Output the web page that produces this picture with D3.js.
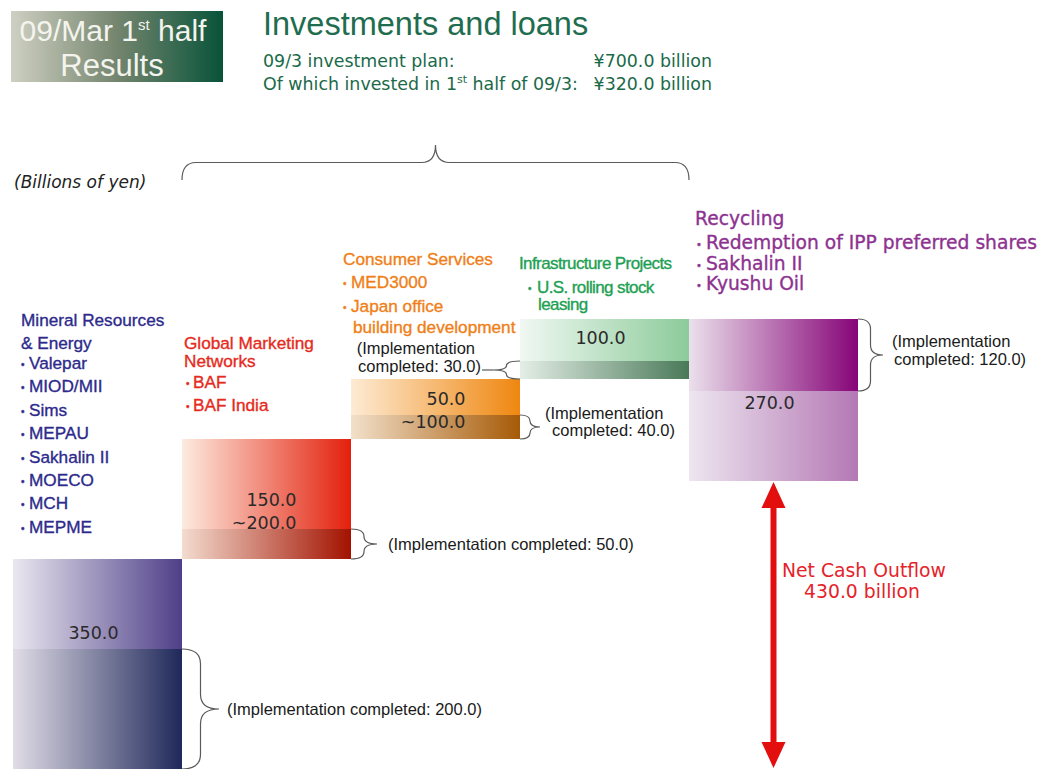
<!DOCTYPE html>
<html>
<head>
<meta charset="utf-8">
<script src="https://cdn.jsdelivr.net/npm/d3@7"></script>
<style>
  html, body { margin: 0; padding: 0; background: #fff; }
  svg { display: block; }
</style>
</head>
<body>
<svg id="chart" width="1040" height="769"></svg>
<script>
// values (billions of yen)
const categories = ["Mineral Resources & Energy", "Global Marketing Networks", "Consumer Services", "Infrastructure Projects", "Recycling"];
const amountLow = [350, 150, 50, 100, -270];
const amountHigh = [350, 200, 100, 100, -270];
const completedAmount = [200, 50, 40, 30, 120];
const categoryTitles = [["Mineral Resources", "& Energy"], ["Global Marketing", "Networks"], ["Consumer Services"], ["Infrastructure Projects"], ["Recycling"]];
const categoryItems = [
  [["Valepar"], ["MIOD/MII"], ["Sims"], ["MEPAU"], ["Sakhalin II"], ["MOECO"], ["MCH"], ["MEPME"]],
  [["BAF"], ["BAF India"]],
  [["MED3000"], ["Japan office", "building development"]],
  [["U.S. rolling stock", "leasing"]],
  [["Redemption of IPP preferred shares"], ["Sakhalin II"], ["Kyushu Oil"]]
];
const investmentPlan = 700.0;
const investedFirstHalf = 320.0;
const netCashOutflow = 430.0;

const fmt = d3.format(".1f");
const sans = "'Liberation Sans', Arial, sans-serif";
const verd = "'DejaVu Sans', Verdana, sans-serif";

const svg = d3.select("#chart");
const defs = svg.append("defs");

const x = d3.scaleBand()
  .domain(categories)
  .range([13, 858])
  .padding(0);

const y = d3.scaleLinear()
  .domain([0, 750])
  .range([769, 319]);

// running totals, bars drawn to the upper end of each range
let running = 0;
const bars = categories.map((c, i) => {
  const start = running;
  const end = start + amountHigh[i];
  running = end;
  const done = start + Math.sign(amountHigh[i]) * completedAmount[i];
  return { c, i, start, end, done };
});

const barColors = [
  { light: "#ebe7f0", main: "#4e3f88", lightDone: "#e1dde7", dark: "#1f285a" },
  { light: "#fdebe0", main: "#e3200c", lightDone: "#f3dccf", dark: "#a31200" },
  { light: "#fdebd4", main: "#ef8710", lightDone: "#f2e0ca", dark: "#a65a06" },
  { light: "#f0f8f2", main: "#8ccb9a", lightDone: "#e4eee6", dark: "#497958" },
  { light: "#ede6f0", main: "#b478b4", lightDone: "#ebe0ec", dark: "#860478" }
];

function grad(id, c0, c1) {
  const g = defs.append("linearGradient").attr("id", id)
    .attr("x1", 0).attr("x2", 1).attr("y1", 0).attr("y2", 0);
  g.append("stop").attr("offset", "0%").attr("stop-color", c0);
  g.append("stop").attr("offset", "100%").attr("stop-color", c1);
}
barColors.forEach((c, i) => {
  grad("g-main-" + i, c.light, c.main);
  grad("g-done-" + i, c.lightDone, c.dark);
});
const hg = defs.append("linearGradient").attr("id", "g-head")
  .attr("x1", 0).attr("x2", 1).attr("y1", 0).attr("y2", 0);
hg.append("stop").attr("offset", "0%").attr("stop-color", "#cfd0c2");
hg.append("stop").attr("offset", "50%").attr("stop-color", "#74856e");
hg.append("stop").attr("offset", "100%").attr("stop-color", "#07533a");

// header
svg.append("rect")
  .attr("x", 11).attr("y", 11).attr("width", 212).attr("height", 71)
  .attr("fill", "url(#g-head)");
const h1 = svg.append("text")
  .attr("x", 113).attr("y", 41)
  .attr("text-anchor", "middle")
  .attr("fill", "#f4f4ee")
  .style("font", "30px " + sans);
h1.append("tspan").text("09/Mar 1");
h1.append("tspan").attr("dy", -11).style("font-size", "15px").text("st");
h1.append("tspan").attr("dy", 11).text(" half");
svg.append("text")
  .attr("x", 112).attr("y", 76)
  .attr("text-anchor", "middle")
  .attr("fill", "#f4f4ee")
  .style("font", "31px " + sans)
  .text("Results");

svg.append("text")
  .attr("x", 263).attr("y", 35)
  .attr("fill", "#1f6d4f")
  .style("font", "32.5px " + sans)
  .text("Investments and loans");

const subColor = "#1b6a4a";
const subFont = "17.4px " + verd;
svg.append("text")
  .attr("x", 263).attr("y", 67)
  .attr("fill", subColor)
  .style("font", subFont)
  .text("09/3 investment plan:");
svg.append("text")
  .attr("x", 712).attr("y", 67)
  .attr("text-anchor", "end")
  .attr("fill", subColor)
  .style("font", subFont)
  .text("¥" + fmt(investmentPlan) + " billion");
const sub2 = svg.append("text")
  .attr("x", 263).attr("y", 90)
  .attr("fill", subColor)
  .style("font", subFont);
sub2.append("tspan").text("Of which invested in 1");
sub2.append("tspan").attr("dy", -7).style("font-size", "11px").text("st");
sub2.append("tspan").attr("dy", 7).text(" half of 09/3:");
svg.append("text")
  .attr("x", 712).attr("y", 90)
  .attr("text-anchor", "end")
  .attr("fill", subColor)
  .style("font", subFont)
  .text("¥" + fmt(investedFirstHalf) + " billion");

svg.append("text")
  .attr("x", 14).attr("y", 188)
  .attr("fill", "#222")
  .style("font", "italic 17px " + verd)
  .text("(Billions of yen)");

// bars: remaining part + completed part
const barG = svg.append("g");
bars.forEach(b => {
  const bx = x(b.c), bw = x.bandwidth();
  barG.append("rect")
    .attr("x", bx).attr("width", bw)
    .attr("y", y(Math.max(b.done, b.end)))
    .attr("height", Math.abs(y(b.done) - y(b.end)))
    .attr("fill", "url(#g-main-" + b.i + ")");
  barG.append("rect")
    .attr("x", bx).attr("width", bw)
    .attr("y", y(Math.max(b.start, b.done)))
    .attr("height", Math.abs(y(b.start) - y(b.done)))
    .attr("fill", "url(#g-done-" + b.i + ")");
});

// value labels
const valueLayout = [
  { dy: -10 }, { dy: 0 }, { dy: 13 }, { dy: -17 }, { dy: 18 }
];
const valueFont = "17.5px " + verd;
bars.forEach(b => {
  const cx = x(b.c) + x.bandwidth() / 2;
  const base = y(b.done) + valueLayout[b.i].dy;
  const lo = Math.abs(amountLow[b.i]), hi = Math.abs(amountHigh[b.i]);
  if (lo === hi) {
    svg.append("text")
      .attr("x", cx - 4).attr("y", base)
      .attr("text-anchor", "middle")
      .attr("fill", "#2a2a2a")
      .style("font", valueFont)
      .text(fmt(hi));
  } else {
    const lines = [fmt(lo), "~" + fmt(hi)];
    lines.forEach((t, k) => {
      svg.append("text")
        .attr("x", cx + 30).attr("y", base - (lines.length - 1 - k) * 23)
        .attr("text-anchor", "end")
        .attr("fill", "#2a2a2a")
        .style("font", valueFont)
        .text(t);
    });
  }
});

// curly brace from p0 to p1, bulging to the left of the travel direction
function bracePath(x0, y0, x1, y1, w) {
  const len = Math.hypot(x1 - x0, y1 - y0);
  const ax = (x1 - x0) / len, ay = (y1 - y0) / len;
  const nx = ay, ny = -ax;
  const P = (u, v) => [x0 + ax * u + nx * v, y0 + ay * u + ny * v];
  const h = w / 2, r = Math.min(w * 0.4, len / 4), m = len / 2;
  const p = d3.path();
  p.moveTo(...P(0, 0));
  p.quadraticCurveTo(...P(0, h), ...P(r, h));
  p.lineTo(...P(m - r, h));
  p.quadraticCurveTo(...P(m, h), ...P(m, w));
  p.quadraticCurveTo(...P(m, h), ...P(m + r, h));
  p.lineTo(...P(len - r, h));
  p.quadraticCurveTo(...P(len, h), ...P(len, 0));
  return { d: p.toString(), tip: P(m, w) };
}

const braceStroke = "#5a5a5a";
function drawBrace(x0, y0, x1, y1, w) {
  const br = bracePath(x0, y0, x1, y1, w);
  svg.append("path")
    .attr("d", br.d)
    .attr("fill", "none")
    .attr("stroke", braceStroke)
    .attr("stroke-width", 1.2);
  return br.tip;
}

// top brace over the investment bars
drawBrace(x(categories[1]), 180, x(categories[4]), 180, 35);

// completed-implementation braces
const braceLayout = [
  { side: "right", w: 37, lines: [{ dx: 8, dy: 6, anchor: "start", t: "(Implementation completed: %)" }] },
  { side: "right", w: 26, lines: [{ dx: 11, dy: 6, anchor: "start", t: "(Implementation completed: %)" }] },
  { side: "right", w: 20, lines: [{ dx: 5, dy: -8, anchor: "start", t: "(Implementation" }, { dx: 12, dy: 9, anchor: "start", t: "completed: %)" }] },
  { side: "left", w: 27, lines: [{ dx: -18, dy: -16, anchor: "end", t: "(Implementation" }, { dx: -12, dy: 2, anchor: "end", t: "completed: %)" }] },
  { side: "right", w: 25, lines: [{ dx: 9, dy: -8, anchor: "start", t: "(Implementation" }, { dx: 11, dy: 10, anchor: "start", t: "completed: %)" }] }
];
bars.forEach(b => {
  const L = braceLayout[b.i];
  const yA = y(Math.max(b.start, b.done)), yB = y(Math.min(b.start, b.done));
  let tip;
  if (L.side === "right") {
    const ex = x(b.c) + x.bandwidth();
    tip = drawBrace(ex, yA, ex, yB, L.w);
  } else {
    const ex = x(b.c);
    tip = drawBrace(ex, yB, ex, yA, L.w);
    svg.append("line")
      .attr("x1", tip[0] - 11).attr("x2", tip[0])
      .attr("y1", tip[1]).attr("y2", tip[1])
      .attr("stroke", braceStroke).attr("stroke-width", 1.2);
  }
  L.lines.forEach(l => {
    svg.append("text")
      .attr("x", tip[0] + l.dx).attr("y", tip[1] + l.dy)
      .attr("text-anchor", l.anchor)
      .attr("fill", "#1a1a1a")
      .style("font", "16.5px " + sans)
      .text(l.t.replace("%", fmt(completedAmount[b.i])));
  });
});

// category labels
const labelLayout = [
  { dx: 8, titleY: 326, titleLH: 22.5, itemY: 369, itemLH: 23.4, contLH: 0, bulletDx: 0, textDx: 8, contDx: 8, color: "#2d2a8c", font: sans, size: 17.2, ls: 0 },
  { dx: 2, titleY: 349, titleLH: 18, itemY: 388, itemLH: 23, contLH: 0, bulletDx: 2, textDx: 9, contDx: 9, color: "#e62a20", font: sans, size: 17.2, ls: 0 },
  { dx: -8, titleY: 265, titleLH: 0, itemY: 288, itemLH: 24, contLH: 21, bulletDx: 0, textDx: 8, contDx: 10, color: "#ef7f18", font: sans, size: 17.2, ls: 0 },
  { dx: -1, titleY: 269, titleLH: 0, itemY: 293, itemLH: 24, contLH: 17, bulletDx: 9, textDx: 18, contDx: 19, color: "#20a052", font: sans, size: 17, ls: -0.6 },
  { dx: 6, titleY: 225, titleLH: 0, itemY: 249, itemLH: 20.5, contLH: 0, bulletDx: 1, textDx: 11, contDx: 11, color: "#8d3290", font: verd, size: 18.7, ls: 0 }
];
categories.forEach((c, i) => {
  const L = labelLayout[i];
  const lx = x(c) + L.dx;
  const g = svg.append("g")
    .attr("fill", L.color)
    .attr("stroke", L.color)
    .attr("stroke-width", 0.35)
    .style("font-family", L.font)
    .style("font-size", L.size + "px")
    .attr("letter-spacing", L.ls);
  categoryTitles[i].forEach((t, k) => {
    g.append("text").attr("x", lx).attr("y", L.titleY + k * L.titleLH).text(t);
  });
  let yy = L.itemY;
  categoryItems[i].forEach(item => {
    item.forEach((t, k) => {
      if (k === 0) {
        g.append("text")
          .attr("x", lx + L.bulletDx).attr("y", yy - 1)
          .style("font-size", "10px")
          .text("•");
        g.append("text").attr("x", lx + L.textDx).attr("y", yy).text(t);
      } else {
        yy += L.contLH;
        g.append("text").attr("x", lx + L.contDx).attr("y", yy).text(t);
      }
    });
    yy += L.itemLH;
  });
});

// net cash outflow arrow
const last = bars[bars.length - 1];
const ax = x(last.c) + x.bandwidth() / 2;
const aTop = y(last.end) + 1, aBot = y(0) - 1;
const headH = 26, headW = 12, red = "#e30f0f";
svg.append("line")
  .attr("x1", ax).attr("x2", ax)
  .attr("y1", aTop + headH - 2).attr("y2", aBot - headH + 2)
  .attr("stroke", red).attr("stroke-width", 6);
svg.append("path")
  .attr("d", d3.line()([[ax, aTop], [ax - headW, aTop + headH], [ax + headW, aTop + headH]]) + "Z")
  .attr("fill", red);
svg.append("path")
  .attr("d", d3.line()([[ax, aBot], [ax - headW, aBot - headH], [ax + headW, aBot - headH]]) + "Z")
  .attr("fill", red);
svg.append("text")
  .attr("x", 864).attr("y", 577)
  .attr("text-anchor", "middle")
  .attr("fill", "#e4232a")
  .style("font", "18.8px " + verd)
  .text("Net Cash Outflow");
svg.append("text")
  .attr("x", 862).attr("y", 598)
  .attr("text-anchor", "middle")
  .attr("fill", "#e4232a")
  .style("font", "18.8px " + verd)
  .text(fmt(netCashOutflow) + " billion");
</script>
</body>
</html>
